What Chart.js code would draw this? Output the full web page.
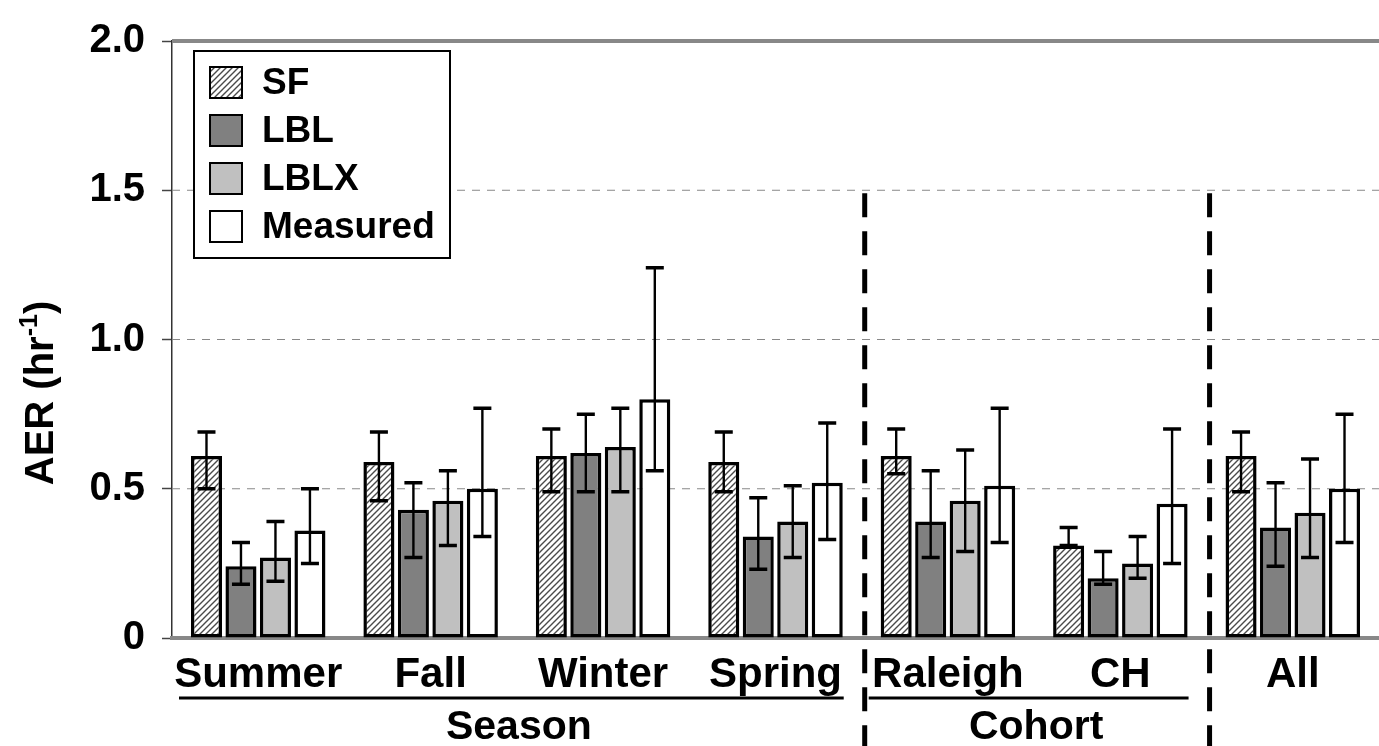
<!DOCTYPE html>
<html>
<head>
<meta charset="utf-8">
<title>AER by season and cohort</title>
<script src="https://cdn.jsdelivr.net/npm/chart.js@4"></script>
<style>
  html, body { margin: 0; padding: 0; background: #fff; }
  #chart { display: block; }
</style>
</head>
<body>
<canvas id="chart" width="1379" height="746"></canvas>
<script>
// AER estimates vs measured, grouped by season and cohort

const categories = ['Summer', 'Fall', 'Winter', 'Spring', 'Raleigh', 'CH', 'All'];
const yTickLabels = ['0', '0.5', '1.0', '1.5', '2.0'];

const sf     = [0.61, 0.59, 0.61, 0.59, 0.61, 0.31, 0.61];
const sfLo   = [0.50, 0.46, 0.49, 0.49, 0.55, 0.31, 0.49];
const sfHi   = [0.69, 0.69, 0.70, 0.69, 0.70, 0.37, 0.69];

const lbl    = [0.24, 0.43, 0.62, 0.34, 0.39, 0.20, 0.37];
const lblLo  = [0.18, 0.27, 0.49, 0.23, 0.27, 0.18, 0.24];
const lblHi  = [0.32, 0.52, 0.75, 0.47, 0.56, 0.29, 0.52];

const lblx   = [0.27, 0.46, 0.64, 0.39, 0.46, 0.25, 0.42];
const lblxLo = [0.19, 0.31, 0.49, 0.27, 0.29, 0.20, 0.27];
const lblxHi = [0.39, 0.56, 0.77, 0.51, 0.63, 0.34, 0.60];

const meas   = [0.36, 0.50, 0.80, 0.52, 0.51, 0.45, 0.50];
const measLo = [0.25, 0.34, 0.56, 0.33, 0.32, 0.25, 0.32];
const measHi = [0.50, 0.77, 1.24, 0.72, 0.77, 0.70, 0.75];

// groups of categories shown under the axis
const groups = [
  { label: 'Season', from: 0, to: 3 },
  { label: 'Cohort', from: 4, to: 5 }
];
// vertical separators sit between these category indexes
const separators = [3.5, 5.5];

const FONT = '"Liberation Sans", Arial, Helvetica, sans-serif';

function hatchPattern() {
  const c = document.createElement('canvas');
  c.width = 6; c.height = 6;
  const g = c.getContext('2d');
  g.fillStyle = '#fff';
  g.fillRect(0, 0, 6, 6);
  g.strokeStyle = '#4a4a4a';
  g.lineWidth = 1.4;
  g.beginPath();
  g.moveTo(-1, 7); g.lineTo(7, -1);
  g.moveTo(-4, 4); g.lineTo(4, -4);
  g.moveTo(2, 10); g.lineTo(10, 2);
  g.stroke();
  return g.createPattern(c, 'repeat');
}

const gridPlugin = {
  id: 'gridLines',
  beforeDatasetsDraw(chart) {
    const { ctx, chartArea, scales: { y } } = chart;
    ctx.save();
    y.ticks.forEach(t => {
      const py = y.getPixelForValue(t.value);
      ctx.beginPath();
      ctx.strokeStyle = '#888';
      if (t.value === 0 || t.value === 2) {
        ctx.lineWidth = 4;
        ctx.setLineDash([]);
      } else {
        ctx.lineWidth = 1;
        ctx.setLineDash([8, 7]);
      }
      ctx.moveTo(chartArea.left - (t.value === 0 ? 2 : 0), py);
      ctx.lineTo(chartArea.right, py);
      ctx.stroke();
    });
    ctx.restore();
  }
};

const errorBarPlugin = {
  id: 'errorBars',
  afterDatasetsDraw(chart) {
    const { ctx, scales: { y } } = chart;
    ctx.save();
    ctx.strokeStyle = '#000';
    chart.data.datasets.forEach((ds, di) => {
      const meta = chart.getDatasetMeta(di);
      meta.data.forEach((bar, i) => {
        const lo = y.getPixelForValue(ds.errLo[i]);
        const hi = y.getPixelForValue(ds.errHi[i]);
        ctx.lineWidth = 2.4;
        ctx.beginPath();
        ctx.moveTo(bar.x, lo);
        ctx.lineTo(bar.x, hi);
        ctx.stroke();
        ctx.lineWidth = 3.5;
        ctx.beginPath();
        ctx.moveTo(bar.x - 9, lo); ctx.lineTo(bar.x + 9, lo);
        ctx.moveTo(bar.x - 9, hi); ctx.lineTo(bar.x + 9, hi);
        ctx.stroke();
      });
    });
    ctx.restore();
  }
};

const annotationPlugin = {
  id: 'annotations',
  afterDraw(chart) {
    const { ctx, scales: { x, y } } = chart;
    const step = x.getPixelForValue(1) - x.getPixelForValue(0);
    ctx.save();

    // dashed separators
    ctx.strokeStyle = '#000';
    ctx.lineWidth = 5;
    ctx.setLineDash([24, 14]);
    separators.forEach(s => {
      const px = x.getPixelForValue(s - 0.5) + step / 2 + 3;
      ctx.beginPath();
      ctx.moveTo(px, y.getPixelForValue(1.49));
      ctx.lineTo(px, chart.height);
      ctx.stroke();
    });
    ctx.setLineDash([]);

    // group underline and names
    groups.forEach(g => {
      const left = x.getPixelForValue(g.from) - step / 2;
      const right = x.getPixelForValue(g.to) + step / 2;
      ctx.lineWidth = 3;
      ctx.beginPath();
      ctx.moveTo(left + 7, 698);
      ctx.lineTo(right - 18, 698);
      ctx.stroke();
      ctx.fillStyle = '#000';
      ctx.font = 'bold 41px ' + FONT;
      ctx.textAlign = 'center';
      ctx.textBaseline = 'alphabetic';
      ctx.fillText(g.label, (left + right) / 2 + 2, 739);
    });

    // y axis title with superscript
    ctx.translate(53, 393);
    ctx.rotate(-Math.PI / 2);
    ctx.fillStyle = '#000';
    ctx.textAlign = 'left';
    ctx.textBaseline = 'alphabetic';
    const mainFont = 'bold 40px ' + FONT;
    const supFont = 'bold 25px ' + FONT;
    ctx.font = mainFont;
    const w1 = ctx.measureText('AER (hr').width;
    const w3 = ctx.measureText(')').width;
    ctx.font = supFont;
    const w2 = ctx.measureText('-1').width;
    let cx = -(w1 + w2 + w3) / 2;
    ctx.font = mainFont;
    ctx.fillText('AER (hr', cx, 0);
    cx += w1;
    ctx.font = supFont;
    ctx.fillText('-1', cx, -16);
    cx += w2;
    ctx.font = mainFont;
    ctx.fillText(')', cx, 0);

    ctx.restore();
  }
};

const legendPlugin = {
  id: 'boxLegend',
  afterDraw(chart) {
    const { ctx } = chart;
    const bx = 194, by = 51, bw = 256, bh = 207;
    ctx.save();
    ctx.fillStyle = '#fff';
    ctx.fillRect(bx, by, bw, bh);
    ctx.strokeStyle = '#000';
    ctx.lineWidth = 2;
    ctx.strokeRect(bx, by, bw, bh);
    chart.data.datasets.forEach((ds, i) => {
      const cy = 82 + i * 48;
      ctx.fillStyle = ds.backgroundColor;
      ctx.fillRect(210, cy - 15, 32, 31);
      ctx.lineWidth = 2;
      ctx.strokeStyle = '#000';
      ctx.strokeRect(210, cy - 15, 32, 31);
      ctx.fillStyle = '#000';
      ctx.font = 'bold 37px ' + FONT;
      ctx.textAlign = 'left';
      ctx.textBaseline = 'middle';
      ctx.fillText(ds.label, 262, cy + 2);
    });
    ctx.restore();
  }
};

const hatch = hatchPattern();

function series(label, values, lo, hi, color) {
  return {
    label,
    data: values,
    errLo: lo,
    errHi: hi,
    backgroundColor: color,
    borderColor: '#000',
    borderWidth: 3.5,
    borderSkipped: false,
    barPercentage: 0.9,
    categoryPercentage: 0.8
  };
}

new Chart(document.getElementById('chart').getContext('2d'), {
  type: 'bar',
  data: {
    labels: categories,
    datasets: [
      series('SF', sf, sfLo, sfHi, hatch),
      series('LBL', lbl, lblLo, lblHi, '#808080'),
      series('LBLX', lblx, lblxLo, lblxHi, '#c0c0c0'),
      series('Measured', meas, measLo, measHi, '#ffffff')
    ]
  },
  options: {
    responsive: false,
    devicePixelRatio: 1,
    animation: false,
    layout: { padding: { top: 38, left: 0, right: 0, bottom: 0 } },
    plugins: {
      legend: { display: false },
      tooltip: { enabled: false }
    },
    scales: {
      x: {
        grid: { display: false },
        border: { display: false },
        ticks: {
          color: '#000',
          font: { family: FONT, size: 42, weight: 'bold' },
          padding: 4,
          maxRotation: 0,
          autoSkip: false
        },
        afterFit: s => { s.height = 108; }
      },
      y: {
        min: 0,
        max: 2,
        grid: {
          drawOnChartArea: false,
          drawTicks: true,
          tickLength: 10,
          tickColor: '#444',
          tickWidth: 1.5
        },
        border: { display: true, color: '#333', width: 1.5 },
        ticks: {
          stepSize: 0.5,
          color: '#000',
          padding: 17,
          font: { family: FONT, size: 40, weight: 'bold' },
          callback: (v, i) => yTickLabels[i]
        },
        afterFit: s => { s.width = 172; }
      }
    }
  },
  plugins: [gridPlugin, errorBarPlugin, annotationPlugin, legendPlugin]
});
</script>
</body>
</html>
